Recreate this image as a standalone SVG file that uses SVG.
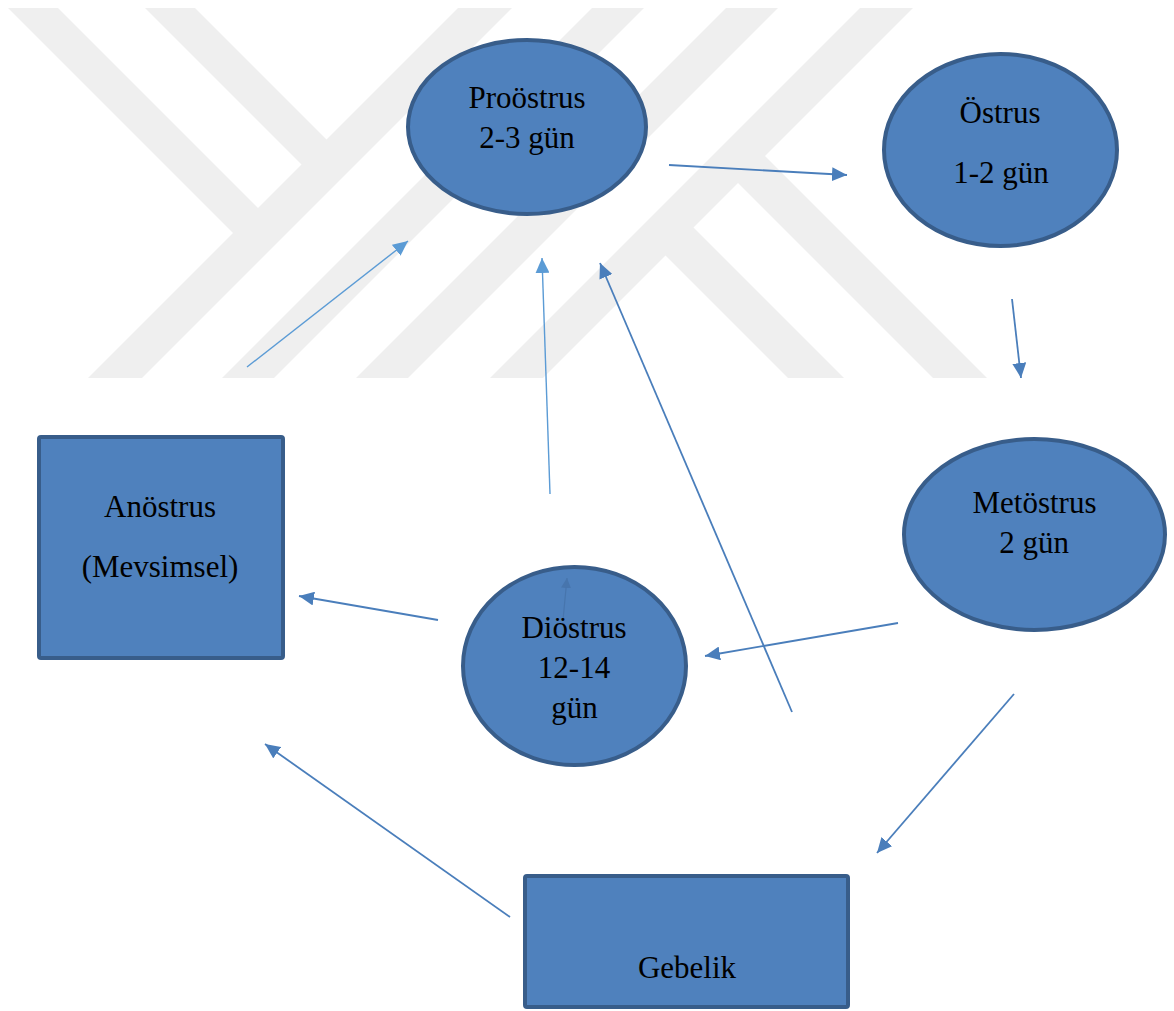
<svg xmlns="http://www.w3.org/2000/svg" width="1174" height="1011" viewBox="0 0 1174 1011">
<style>
.node{fill:#4f81bd;stroke:#385d8a;stroke-width:4}
.lbl{font-family:"Liberation Serif","Times New Roman",serif;font-size:31px;fill:#000;text-anchor:middle}
.c1{stroke:#4a7ebb;stroke-width:1.8;fill:none}
.c2{stroke:#5b9bd5;stroke-width:1.4;fill:none}
.wm{fill:#efefef}
</style>
<defs>
<marker id="ah1" viewBox="0 0 15 14" refX="15" refY="7" markerWidth="15" markerHeight="14" markerUnits="userSpaceOnUse" orient="auto"><path d="M0,0 L15,7 L0,14 z" fill="#4a7ebb"/></marker>
<marker id="ah2" viewBox="0 0 15 14" refX="15" refY="7" markerWidth="15" markerHeight="14" markerUnits="userSpaceOnUse" orient="auto"><path d="M0,0 L15,7 L0,14 z" fill="#5b9bd5"/></marker>
<marker id="ah3" viewBox="0 0 10 10" refX="10" refY="5" markerWidth="10" markerHeight="10" markerUnits="userSpaceOnUse" orient="auto"><path d="M0,0 L10,5 L0,10 z" fill="#4775ad"/></marker>
<clipPath id="wmclip"><rect x="0" y="8" width="1174" height="370"/></clipPath>
</defs>
<rect width="1174" height="1011" fill="#fff"/>
<g id="watermark" clip-path="url(#wmclip)">
<polygon class="wm" points="458,8 512,8 142,378 88,378"/>
<polygon class="wm" points="592,8 644,8 274,378 222,378"/>
<polygon class="wm" points="726,8 778,8 408,378 356,378"/>
<polygon class="wm" points="860,8 913,8 543,378 490,378"/>
<polygon class="wm" points="8,8 58,8 271.5,221.5 246.5,246.5"/>
<polygon class="wm" points="145,8 195,8 340,153 315,178"/>
<polygon class="wm" points="725,170 752,143 987,378 933,378"/>
<polygon class="wm" points="652.5,242.5 680.5,214.5 844,378 788,378"/>
</g>
<g id="connectors">
<line class="c1" x1="669" y1="165" x2="847" y2="175" marker-end="url(#ah1)"/>
<line class="c1" x1="1012" y1="299" x2="1021" y2="378" marker-end="url(#ah1)"/>
<line class="c1" x1="898" y1="623" x2="705" y2="656" marker-end="url(#ah1)"/>
<line class="c1" x1="1014" y1="694" x2="877" y2="853" marker-end="url(#ah1)"/>
<line class="c1" x1="510" y1="917" x2="265" y2="744" marker-end="url(#ah1)"/>
<line class="c1" x1="438" y1="620" x2="299" y2="596" marker-end="url(#ah1)"/>
<line class="c1" x1="792" y1="712" x2="600" y2="263" marker-end="url(#ah1)"/>
<line class="c2" x1="550" y1="494" x2="542" y2="258" marker-end="url(#ah2)"/>
<line class="c2" x1="247" y1="367" x2="408" y2="241" marker-end="url(#ah2)"/>
</g>
<g id="proostrus">
<ellipse class="node" cx="527" cy="127" rx="119" ry="87"/>
<text class="lbl" x="527" y="108">Proöstrus</text>
<text class="lbl" x="527" y="148">2-3 gün</text>
</g>
<g id="ostrus">
<ellipse class="node" cx="1000.5" cy="150" rx="116.5" ry="96"/>
<text class="lbl" x="1000" y="123">Östrus</text>
<text class="lbl" x="1001" y="183">1-2 gün</text>
</g>
<g id="metostrus">
<ellipse class="node" cx="1034.5" cy="534.5" rx="130.5" ry="95.5"/>
<text class="lbl" x="1034.5" y="513">Metöstrus</text>
<text class="lbl" x="1034" y="553">2 gün</text>
</g>
<g id="diostrus">
<ellipse class="node" cx="574.5" cy="666" rx="111.5" ry="99"/>
<line x1="563" y1="620" x2="567" y2="578" stroke="#4775ad" stroke-width="1.2" marker-end="url(#ah3)"/>
<text class="lbl" x="574" y="638">Diöstrus</text>
<text class="lbl" x="574" y="678">12-14</text>
<text class="lbl" x="574.5" y="718">gün</text>
</g>
<g id="anostrus">
<rect class="node" x="39" y="437" width="244" height="221" rx="2"/>
<text class="lbl" x="160" y="517">Anöstrus</text>
<text class="lbl" x="160" y="577">(Mevsimsel)</text>
</g>
<g id="gebelik">
<rect class="node" x="525" y="876" width="323" height="131" rx="2"/>
<text class="lbl" x="687" y="978">Gebelik</text>
</g>
</svg>
